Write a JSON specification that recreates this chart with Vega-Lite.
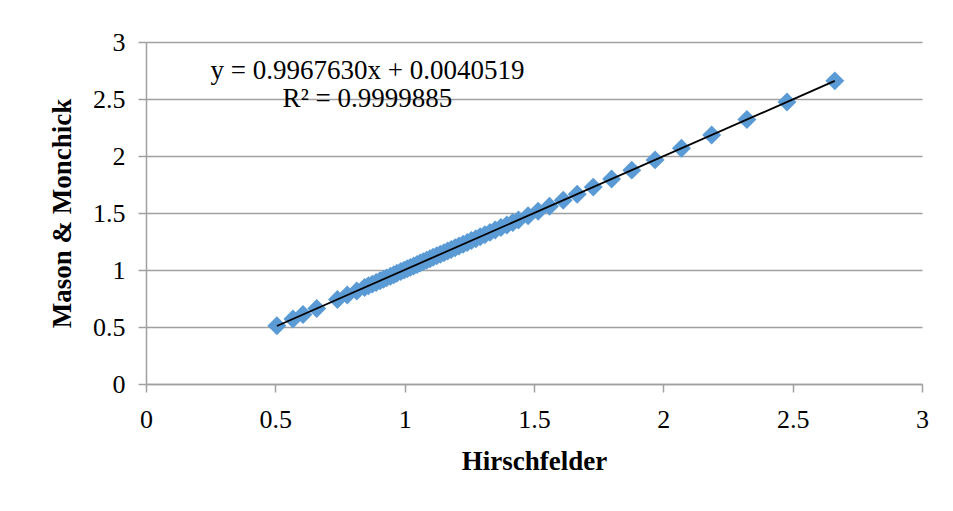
{
  "$schema": "https://vega.github.io/schema/vega-lite/v6.json",
  "width": 776,
  "height": 342,
  "autosize": {"type": "none"},
  "padding": {"left": 146, "top": 42, "right": 31, "bottom": 127},
  "background": "white",
  "config": {"view": {"stroke": null}, "font": "Liberation Serif"},
  "datasets": {
    "pts": [
      {"h": 0.506, "m": 0.510}, {"h": 0.568, "m": 0.571}, {"h": 0.607, "m": 0.610}, {"h": 0.660, "m": 0.663},
      {"h": 0.740, "m": 0.742}, {"h": 0.778, "m": 0.780}, {"h": 0.815, "m": 0.816}, {"h": 0.845, "m": 0.846},
      {"h": 0.860, "m": 0.861}, {"h": 0.875, "m": 0.876}, {"h": 0.890, "m": 0.891}, {"h": 0.905, "m": 0.906},
      {"h": 0.918, "m": 0.919}, {"h": 0.930, "m": 0.931}, {"h": 0.945, "m": 0.946}, {"h": 0.958, "m": 0.959},
      {"h": 0.970, "m": 0.971}, {"h": 0.985, "m": 0.986}, {"h": 0.998, "m": 0.999}, {"h": 1.010, "m": 1.011},
      {"h": 1.022, "m": 1.023}, {"h": 1.035, "m": 1.036}, {"h": 1.048, "m": 1.049}, {"h": 1.060, "m": 1.061},
      {"h": 1.072, "m": 1.073}, {"h": 1.085, "m": 1.086}, {"h": 1.098, "m": 1.099}, {"h": 1.110, "m": 1.111},
      {"h": 1.124, "m": 1.125}, {"h": 1.138, "m": 1.139}, {"h": 1.152, "m": 1.152}, {"h": 1.166, "m": 1.166},
      {"h": 1.180, "m": 1.180}, {"h": 1.195, "m": 1.195}, {"h": 1.210, "m": 1.210}, {"h": 1.226, "m": 1.226},
      {"h": 1.242, "m": 1.242}, {"h": 1.258, "m": 1.258}, {"h": 1.275, "m": 1.275}, {"h": 1.292, "m": 1.292},
      {"h": 1.310, "m": 1.310}, {"h": 1.330, "m": 1.330}, {"h": 1.350, "m": 1.350}, {"h": 1.372, "m": 1.372},
      {"h": 1.395, "m": 1.394}, {"h": 1.418, "m": 1.417}, {"h": 1.440, "m": 1.439}, {"h": 1.477, "m": 1.476},
      {"h": 1.516, "m": 1.515}, {"h": 1.560, "m": 1.559}, {"h": 1.613, "m": 1.611}, {"h": 1.667, "m": 1.665},
      {"h": 1.729, "m": 1.727}, {"h": 1.800, "m": 1.798}, {"h": 1.878, "m": 1.876}, {"h": 1.968, "m": 1.966},
      {"h": 2.070, "m": 2.068}, {"h": 2.187, "m": 2.185}, {"h": 2.323, "m": 2.320}, {"h": 2.478, "m": 2.474},
      {"h": 2.663, "m": 2.659}
    ],
    "notes": [
      {"h": 0.856, "m": 2.675, "label": "y = 0.9967630x + 0.0040519"},
      {"h": 0.856, "m": 2.43, "label": "R² = 0.9999885"}
    ]
  },
  "layer": [
    {
      "data": {"name": "pts"},
      "mark": {"type": "point", "shape": "diamond", "filled": true, "size": 360, "opacity": 1, "color": "#5B9BD5"},
      "encoding": {
        "x": {
          "field": "h", "type": "quantitative",
          "scale": {"domain": [0, 3], "nice": false, "zero": false},
          "axis": {
            "title": "Hirschfelder", "values": [0, 0.5, 1, 1.5, 2, 2.5, 3], "format": "~g",
            "grid": false, "domainColor": "#a0a0a0", "domainWidth": 1.5,
            "tickColor": "#a0a0a0", "tickWidth": 1.5, "tickSize": 8,
            "labelFont": "Liberation Serif", "labelFontSize": 26, "labelColor": "#000000", "labelPadding": 14, "labelFlush": false,
            "titleFont": "Liberation Serif", "titleFontSize": 27, "titleFontWeight": "bold", "titleColor": "#000000", "titlePadding": 16
          }
        },
        "y": {
          "field": "m", "type": "quantitative",
          "scale": {"domain": [0, 3], "nice": false, "zero": false},
          "axis": {
            "title": "Mason & Monchick", "values": [0, 0.5, 1, 1.5, 2, 2.5, 3], "format": "~g",
            "grid": true, "gridColor": "#a0a0a0", "gridWidth": 1.5,
            "domainColor": "#a0a0a0", "domainWidth": 1.5,
            "tickColor": "#a0a0a0", "tickWidth": 1.5, "tickSize": 8,
            "labelFont": "Liberation Serif", "labelFontSize": 26, "labelColor": "#000000", "labelPadding": 13,
            "titleFont": "Liberation Serif", "titleFontSize": 27, "titleFontWeight": "bold", "titleColor": "#000000", "titlePadding": 16
          }
        }
      }
    },
    {
      "data": {"name": "pts"},
      "transform": [{"regression": "m", "on": "h"}],
      "mark": {"type": "line", "color": "#000000", "strokeWidth": 1.8},
      "encoding": {
        "x": {"field": "h", "type": "quantitative"},
        "y": {"field": "m", "type": "quantitative"}
      }
    },
    {
      "data": {"name": "notes"},
      "mark": {"type": "text", "font": "Liberation Serif", "fontSize": 27, "align": "center", "baseline": "alphabetic", "color": "#000000"},
      "encoding": {
        "x": {"field": "h", "type": "quantitative"},
        "y": {"field": "m", "type": "quantitative"},
        "text": {"field": "label"}
      }
    }
  ]
}
